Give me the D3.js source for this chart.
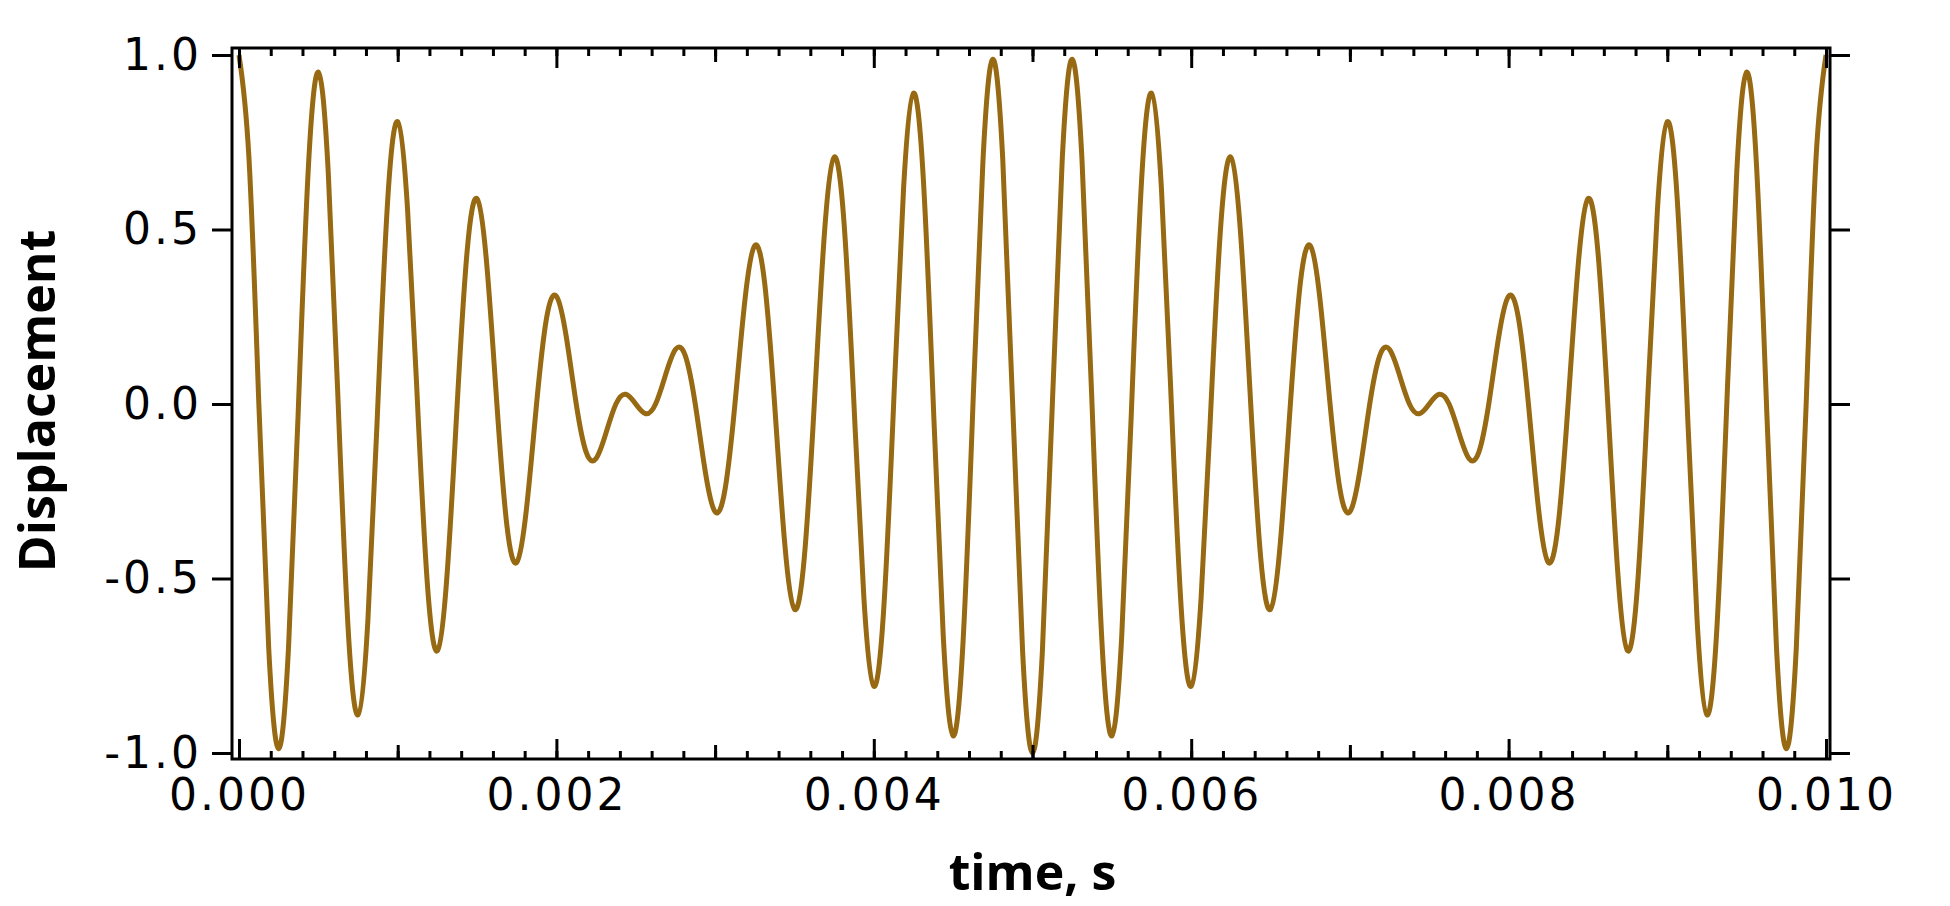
<!DOCTYPE html>
<html>
<head>
<meta charset="utf-8">
<script src="https://cdn.jsdelivr.net/npm/d3@7"></script>
<style>
  body { margin: 0; background: #fff; }
  svg { display: block; }
</style>
</head>
<body>
<div id="chart"></div>
<script>
// samples of the trace, one every 62.5 microseconds from t = 0 to t = 0.010 s
var sampleInterval = 0.0000625;
var displacement = [
   1.000,  0.707,  0,     -0.702, -0.988, -0.694,  0,      0.681,  0.951,  0.663,
   0,     -0.642, -0.891, -0.617,  0,      0.588,  0.809,  0.555,  0,     -0.519,
  -0.707, -0.480,  0,      0.438,  0.588,  0.393,  0,     -0.346, -0.454, -0.296,
   0,      0.245,  0.309,  0.192,  0,     -0.138, -0.156, -0.083,  0,      0.028,
   0,     -0.028,  0,      0.083,  0.156,  0.138,  0,     -0.192, -0.309, -0.245,
   0,      0.296,  0.454,  0.346,  0,     -0.393, -0.588, -0.438,  0,      0.480,
   0.707,  0.519,  0,     -0.555, -0.809, -0.588,  0,      0.617,  0.891,  0.642,
   0,     -0.663, -0.951, -0.681,  0,      0.694,  0.988,  0.702,  0,     -0.707,
  -1.000, -0.707,  0,      0.702,  0.988,  0.694,  0,     -0.681, -0.951, -0.663,
   0,      0.642,  0.891,  0.617,  0,     -0.588, -0.809, -0.555,  0,      0.519,
   0.707,  0.480,  0,     -0.438, -0.588, -0.393,  0,      0.346,  0.454,  0.296,
   0,     -0.245, -0.309, -0.192,  0,      0.138,  0.156,  0.083,  0,     -0.028,
   0,      0.028,  0,     -0.083, -0.156, -0.138,  0,      0.192,  0.309,  0.245,
   0,     -0.296, -0.454, -0.346,  0,      0.393,  0.588,  0.438,  0,     -0.480,
  -0.707, -0.519,  0,      0.555,  0.809,  0.588,  0,     -0.617, -0.891, -0.642,
   0,      0.663,  0.951,  0.681,  0,     -0.694, -0.988, -0.702,  0,      0.707,
   1.000
];

var xMajorTicks = [0, 0.002, 0.004, 0.006, 0.008, 0.010];
var xTickLabels = ["0.000", "0.002", "0.004", "0.006", "0.008", "0.010"];
var xMidTicks = [0.001, 0.003, 0.005, 0.007, 0.009];
var yTicks = [-1.0, -0.5, 0.0, 0.5, 1.0];
var yTickLabels = ["-1.0", "-0.5", "0.0", "0.5", "1.0"];

var width = 1950;
var height = 906;
var frame = {left: 232, right: 1830, top: 48, bottom: 759};

var svg = d3.select("#chart")
    .append("svg")
    .attr("width", width)
    .attr("height", height);

var x = d3.scaleLinear()
    .domain([0, 0.010])
    .range([239, 1826]);

var y = d3.scaleLinear()
    .domain([-1, 1])
    .range([753, 55]);

var data = displacement.map(function(d, i) { return {t: i * sampleInterval, v: d}; });

// the trace
var line = d3.line()
    .x(function(d) { return x(d.t); })
    .y(function(d) { return y(d.v); })
    .curve(d3.curveNatural);

svg.append("path")
    .datum(data)
    .attr("fill", "none")
    .attr("stroke", "#966912")
    .attr("stroke-width", 5)
    .attr("stroke-linejoin", "round")
    .attr("d", line);

// tick marks, bottom and top (pointing inwards)
function tickSet(values, len) {
  var bottom = svg.append("g")
      .attr("transform", "translate(0," + frame.bottom + ")")
      .call(d3.axisBottom(x).tickValues(values).tickSize(-len).tickFormat(""));
  var top = svg.append("g")
      .attr("transform", "translate(0," + frame.top + ")")
      .call(d3.axisTop(x).tickValues(values).tickSize(-len).tickFormat(""));
  [bottom, top].forEach(function(a) {
    a.select(".domain").remove();
    a.selectAll("line").attr("stroke", "#000").attr("stroke-width", 3);
  });
}
tickSet(x.ticks(50), 8);
tickSet(xMidTicks, 14);
tickSet(xMajorTicks, 20);

// x tick labels
var xLabels = svg.append("g")
    .attr("transform", "translate(0," + frame.bottom + ")")
    .call(d3.axisBottom(x).tickValues(xMajorTicks).tickSize(0).tickPadding(20)
      .tickFormat(function(d, i) { return xTickLabels[i]; }));
xLabels.select(".domain").remove();
xLabels.selectAll("text")
    .attr("fill", "#000")
    .style("font-family", "DejaVu Sans")
    .style("font-size", "44px")
    .style("letter-spacing", "3px");

// y axes, ticks pointing outwards on both sides
var yLeft = svg.append("g")
    .attr("transform", "translate(" + frame.left + ",0)")
    .call(d3.axisLeft(y).tickValues(yTicks).tickSize(20).tickPadding(10)
      .tickFormat(function(d, i) { return yTickLabels[i]; }));
yLeft.select(".domain").remove();
yLeft.selectAll("line").attr("stroke", "#000").attr("stroke-width", 3);
yLeft.selectAll("text")
    .attr("fill", "#000")
    .style("font-family", "DejaVu Sans")
    .style("font-size", "44px")
    .style("letter-spacing", "3px");

var yRight = svg.append("g")
    .attr("transform", "translate(" + frame.right + ",0)")
    .call(d3.axisRight(y).tickValues(yTicks).tickSize(20).tickFormat(""));
yRight.select(".domain").remove();
yRight.selectAll("line").attr("stroke", "#000").attr("stroke-width", 3);

// frame
svg.append("rect")
    .attr("x", frame.left)
    .attr("y", frame.top)
    .attr("width", frame.right - frame.left)
    .attr("height", frame.bottom - frame.top)
    .attr("fill", "none")
    .attr("stroke", "#000")
    .attr("stroke-width", 3);

// axis titles
svg.append("text")
    .attr("x", (x.range()[0] + x.range()[1]) / 2)
    .attr("y", 890)
    .attr("text-anchor", "middle")
    .style("font-family", "Open Sans")
    .style("font-weight", "bold")
    .style("font-size", "50px")
    .text("time, s");

svg.append("text")
    .attr("transform", "translate(55,401) rotate(-90)")
    .attr("text-anchor", "middle")
    .style("font-family", "Open Sans")
    .style("font-weight", "bold")
    .style("font-size", "50px")
    .text("Displacement");
</script>
</body>
</html>
